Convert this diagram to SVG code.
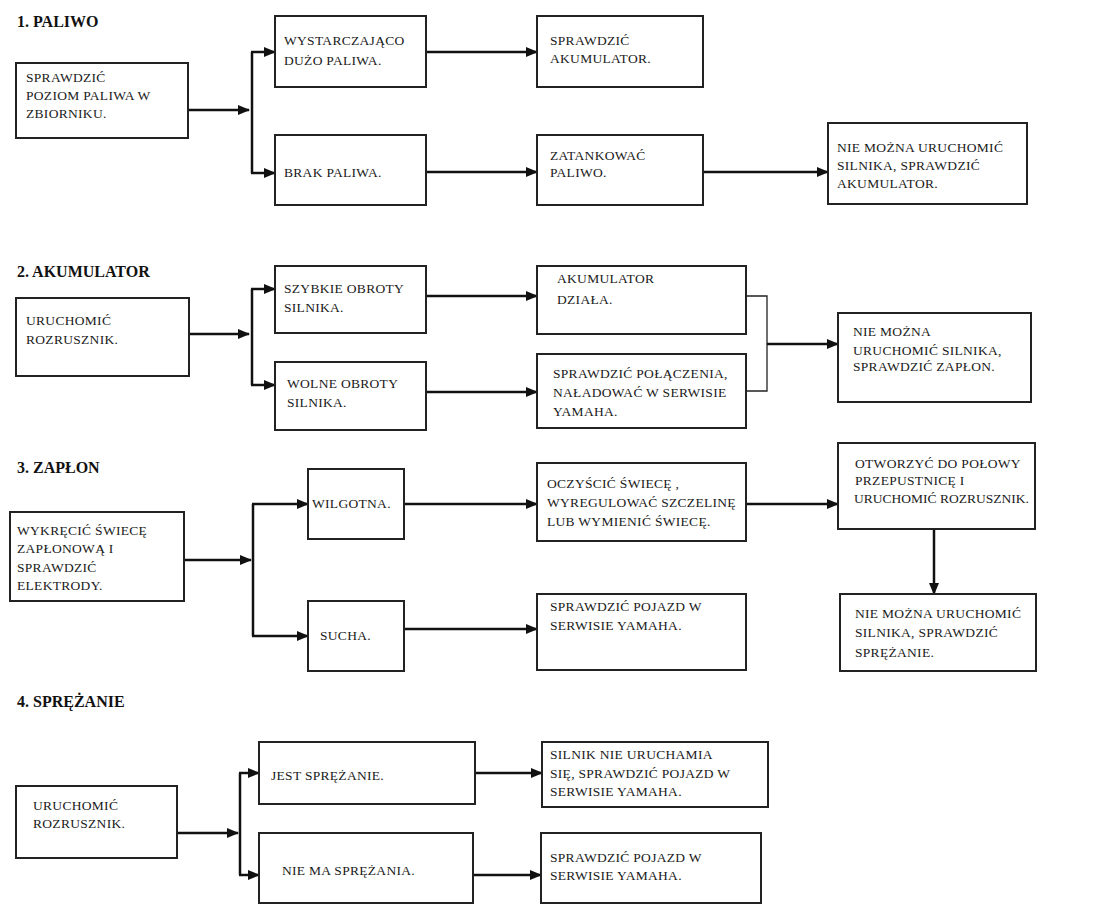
<svg xmlns="http://www.w3.org/2000/svg" width="1095" height="912" viewBox="0 0 1095 912">
<style>
.box{fill:#fff;stroke:#222;stroke-width:2}
.t{font-family:"Liberation Serif","Times New Roman",serif;font-size:13.5px;letter-spacing:0.3px;fill:#1a1a1a}
.h{font-family:"Liberation Serif","Times New Roman",serif;font-size:16px;font-weight:bold;fill:#111}
.c{fill:none;stroke:#111;stroke-width:2.5}
.ca{fill:none;stroke:#111;stroke-width:2.5;marker-end:url(#ah)}
.thin{fill:none;stroke:#222;stroke-width:1.3}
</style>
<defs>
<marker id="ah" viewBox="0 0 12 10" refX="11" refY="5" markerWidth="12" markerHeight="10" markerUnits="userSpaceOnUse" orient="auto">
<path d="M0,0 L12,5 L0,10 z" fill="#111"/>
</marker>
</defs>
<rect width="1095" height="912" fill="#fff"/>

<text class="h" x="17" y="27">1. PALIWO</text>
<text class="h" x="17" y="277">2. AKUMULATOR</text>
<text class="h" x="17" y="473">3. ZAPŁON</text>
<text class="h" x="17" y="707">4. SPRĘŻANIE</text>

<g id="connectors">
<!-- section 1 -->
<path class="ca" d="M188,110 H249"/>
<path class="c" d="M252,52 V173"/>
<path class="ca" d="M251,52 H275"/>
<path class="ca" d="M251,173 H275"/>
<path class="ca" d="M426,52 H537"/>
<path class="ca" d="M426,172 H537"/>
<path class="ca" d="M703,172 H828"/>
<!-- section 2 -->
<path class="ca" d="M189,334 H249"/>
<path class="c" d="M252,289 V385"/>
<path class="ca" d="M251,289 H275"/>
<path class="ca" d="M251,385 H275"/>
<path class="ca" d="M426,296 H537"/>
<path class="ca" d="M426,392 H537"/>
<path class="thin" d="M746,296 H767 V391 H746"/>
<path class="ca" d="M767,344 H838"/>
<!-- section 3 -->
<path class="ca" d="M184,560 H251"/>
<path class="c" d="M253,504 V636"/>
<path class="ca" d="M252,504 H308"/>
<path class="ca" d="M252,636 H308"/>
<path class="ca" d="M404,504 H537"/>
<path class="ca" d="M404,629 H537"/>
<path class="ca" d="M746,504 H838"/>
<path class="ca" d="M934,529 V594"/>
<!-- section 4 -->
<path class="ca" d="M177,833 H238"/>
<path class="c" d="M240,773 V875"/>
<path class="ca" d="M239,773 H259"/>
<path class="ca" d="M239,875 H259"/>
<path class="ca" d="M475,773 H542"/>
<path class="ca" d="M473,875 H541"/>
</g>

<!-- Section 1 -->
<g id="n1a"><rect class="box" x="16" y="63" width="172" height="75"/>
<text class="t" x="26" y="82">SPRAWDZIĆ</text><text class="t" x="26" y="100">POZIOM PALIWA W</text><text class="t" x="26" y="118">ZBIORNIKU.</text></g>
<g id="n1b"><rect class="box" x="275" y="16" width="151" height="71"/>
<text class="t" x="284" y="45">WYSTARCZAJĄCO</text><text class="t" x="284" y="65">DUŻO PALIWA.</text></g>
<g id="n1c"><rect class="box" x="275" y="135" width="151" height="70"/>
<text class="t" x="284" y="177">BRAK PALIWA.</text></g>
<g id="n1d"><rect class="box" x="537" y="16" width="166" height="71"/>
<text class="t" x="550" y="45">SPRAWDZIĆ</text><text class="t" x="550" y="63">AKUMULATOR.</text></g>
<g id="n1e"><rect class="box" x="537" y="135" width="166" height="70"/>
<text class="t" x="550" y="160">ZATANKOWAĆ</text><text class="t" x="550" y="177">PALIWO.</text></g>
<g id="n1f"><rect class="box" x="828" y="123" width="199" height="81"/>
<text class="t" x="837" y="152">NIE MOŻNA URUCHOMIĆ</text><text class="t" x="837" y="170">SILNIKA, SPRAWDZIĆ</text><text class="t" x="837" y="188">AKUMULATOR.</text></g>

<!-- Section 2 -->
<g id="n2a"><rect class="box" x="16" y="298" width="173" height="78"/>
<text class="t" x="26" y="325">URUCHOMIĆ</text><text class="t" x="26" y="344">ROZRUSZNIK.</text></g>
<g id="n2b"><rect class="box" x="275" y="266" width="151" height="67"/>
<text class="t" x="284" y="293">SZYBKIE OBROTY</text><text class="t" x="284" y="312">SILNIKA.</text></g>
<g id="n2c"><rect class="box" x="275" y="362" width="151" height="68"/>
<text class="t" x="287" y="388">WOLNE OBROTY</text><text class="t" x="287" y="407">SILNIKA.</text></g>
<g id="n2d"><rect class="box" x="537" y="266" width="209" height="68"/>
<text class="t" x="557" y="283">AKUMULATOR</text><text class="t" x="557" y="304">DZIAŁA.</text></g>
<g id="n2e"><rect class="box" x="537" y="354" width="209" height="74"/>
<text class="t" x="553" y="378">SPRAWDZIĆ POŁĄCZENIA,</text><text class="t" x="553" y="397">NAŁADOWAĆ W SERWISIE</text><text class="t" x="553" y="416">YAMAHA.</text></g>
<g id="n2f"><rect class="box" x="838" y="313" width="193" height="89"/>
<text class="t" x="853" y="336">NIE MOŻNA</text><text class="t" x="853" y="355">URUCHOMIĆ SILNIKA,</text><text class="t" x="853" y="371">SPRAWDZIĆ ZAPŁON.</text></g>

<!-- Section 3 -->
<g id="n3a"><rect class="box" x="10" y="512" width="174" height="89"/>
<text class="t" x="17" y="535">WYKRĘCIĆ ŚWIECĘ</text><text class="t" x="17" y="553">ZAPŁONOWĄ I</text><text class="t" x="17" y="572">SPRAWDZIĆ</text><text class="t" x="17" y="590">ELEKTRODY.</text></g>
<g id="n3b"><rect class="box" x="308" y="469" width="96" height="70"/>
<text class="t" x="312" y="508">WILGOTNA.</text></g>
<g id="n3c"><rect class="box" x="308" y="601" width="96" height="70"/>
<text class="t" x="320" y="640">SUCHA.</text></g>
<g id="n3d"><rect class="box" x="537" y="463" width="209" height="78"/>
<text class="t" x="547" y="488">OCZYŚCIĆ  ŚWIECĘ ,</text><text class="t" x="547" y="507">WYREGULOWAĆ  SZCZELINĘ</text><text class="t" x="547" y="526">LUB WYMIENIĆ ŚWIECĘ.</text></g>
<g id="n3e"><rect class="box" x="537" y="594" width="209" height="76"/>
<text class="t" x="550" y="611">SPRAWDZIĆ POJAZD W</text><text class="t" x="550" y="630">SERWISIE YAMAHA.</text></g>
<g id="n3f"><rect class="box" x="838" y="443" width="197" height="86"/>
<text class="t" x="855" y="468">OTWORZYĆ DO POŁOWY</text><text class="t" x="855" y="485">PRZEPUSTNICĘ I</text><text class="t" x="854" y="503" style="letter-spacing:0">URUCHOMIĆ ROZRUSZNIK.</text></g>
<g id="n3g"><rect class="box" x="840" y="594" width="196" height="77"/>
<text class="t" x="855" y="618">NIE  MOŻNA  URUCHOMIĆ</text><text class="t" x="855" y="637">SILNIKA, SPRAWDZIĆ</text><text class="t" x="855" y="657">SPRĘŻANIE.</text></g>

<!-- Section 4 -->
<g id="n4a"><rect class="box" x="16" y="786" width="161" height="72"/>
<text class="t" x="33" y="810">URUCHOMIĆ</text><text class="t" x="33" y="828">ROZRUSZNIK.</text></g>
<g id="n4b"><rect class="box" x="259" y="742" width="216" height="62"/>
<text class="t" x="271" y="780">JEST SPRĘŻANIE.</text></g>
<g id="n4c"><rect class="box" x="259" y="833" width="214" height="70"/>
<text class="t" x="282" y="875">NIE MA SPRĘŻANIA.</text></g>
<g id="n4d"><rect class="box" x="542" y="742" width="226" height="65"/>
<text class="t" x="550" y="759">SILNIK NIE URUCHAMIA</text><text class="t" x="550" y="778">SIĘ, SPRAWDZIĆ POJAZD W</text><text class="t" x="550" y="796">SERWISIE YAMAHA.</text></g>
<g id="n4e"><rect class="box" x="541" y="833" width="220" height="70"/>
<text class="t" x="550" y="862">SPRAWDZIĆ POJAZD W</text><text class="t" x="550" y="880">SERWISIE YAMAHA.</text></g>
</svg>
